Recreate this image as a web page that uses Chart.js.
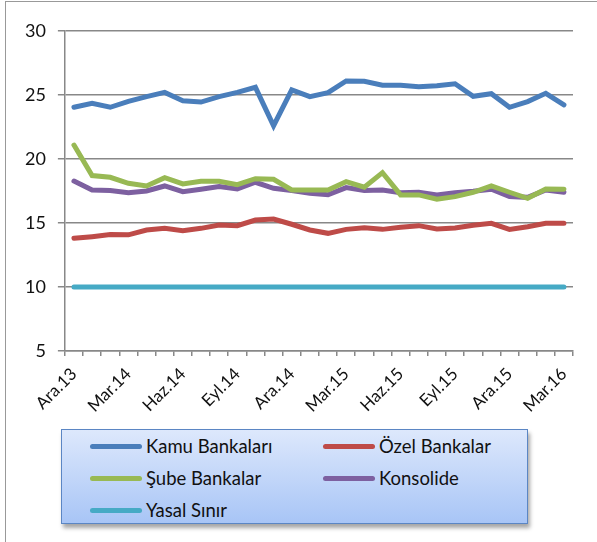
<!DOCTYPE html>
<html>
<head>
<meta charset="utf-8">
<script src="https://cdn.jsdelivr.net/npm/chart.js@4"></script>
<style>
  body { margin: 0; background: #fff; font-family: Lato, "Open Sans", sans-serif; }
  #frame { position: absolute; left: 5px; top: 1px; width: 600px; height: 560px; border: 1px solid #999; box-sizing: border-box; }
  #wrap { position: absolute; left: 0; top: 0; width: 597px; height: 424px; }
  #legend {
    position: absolute; left: 61px; top: 429px; width: 467px; height: 95px; box-sizing: border-box;
    border: 1.5px solid #5b86c4;
    background: linear-gradient(to bottom, #dde8fc, #a8c5f6);
    box-shadow: 2px 4px 4px rgba(0,0,0,0.35);
  }
  .item { position: absolute; display: flex; align-items: center; font-size: 18.5px; color: #111; }
  .swatch { width: 52px; height: 5px; border-radius: 3px; margin-right: 4px; }
</style>
</head>
<body>
<div id="frame"></div>
<div id="wrap"><canvas id="c"></canvas></div>
<div id="legend"></div>
<script>
const labels = ["Ara.13","Oca.14","Şub.14","Mar.14","Nis.14","May.14","Haz.14","Tem.14","Ağu.14","Eyl.14","Eki.14","Kas.14",
  "Ara.14","Oca.15","Şub.15","Mar.15","Nis.15","May.15","Haz.15","Tem.15","Ağu.15","Eyl.15","Eki.15","Kas.15",
  "Ara.15","Oca.16","Şub.16","Mar.16"];

const kamu = [24.04,24.35,24.04,24.5,24.87,25.2,24.55,24.45,24.87,25.2,25.6,22.6,
  25.4,24.87,25.18,26.1,26.07,25.76,25.76,25.65,25.73,25.88,24.9,25.1,24.04,24.48,25.13,24.22];
const ozel = [13.8,13.93,14.09,14.07,14.45,14.58,14.4,14.58,14.84,14.79,15.23,15.31,
  14.9,14.45,14.19,14.5,14.63,14.5,14.66,14.79,14.53,14.6,14.82,14.97,14.5,14.71,14.97,14.97];
const sube = [21.09,18.7,18.57,18.1,17.89,18.54,18.05,18.26,18.26,17.99,18.46,18.41,
  17.58,17.58,17.58,18.23,17.79,18.93,17.19,17.19,16.85,17.06,17.4,17.89,17.4,16.93,17.66,17.63];
const konsolide = [18.28,17.58,17.53,17.37,17.5,17.89,17.45,17.63,17.84,17.66,18.18,17.71,
  17.53,17.32,17.2,17.76,17.53,17.58,17.37,17.4,17.19,17.37,17.47,17.63,17.06,17.0,17.58,17.4];
const yasal = labels.map(() => 10);

const yTicks = [5, 10, 15, 20, 25, 30];

const series = [
  { label: "Kamu Bankaları", data: kamu, color: "#4a7ebb" },
  { label: "Özel Bankalar", data: ozel, color: "#be4b48" },
  { label: "Şube Bankalar", data: sube, color: "#98b954" },
  { label: "Konsolide", data: konsolide, color: "#7d60a0" },
  { label: "Yasal Sınır", data: yasal, color: "#46aac5" },
];

const datasets = series.map(s => ({
  label: s.label,
  data: s.data,
  borderColor: s.color,
  backgroundColor: s.color,
  borderWidth: 5,
  pointRadius: 0,
  tension: 0,
  borderCapStyle: "round",
}));

new Chart(document.getElementById("c"), {
  type: "line",
  data: { labels: labels, datasets: datasets },
  options: {
    responsive: true,
    maintainAspectRatio: false,
    animation: false,
    layout: { padding: { top: 31, right: 24, left: 13, bottom: 0 } },
    plugins: { legend: { display: false }, tooltip: { enabled: false } },
    scales: {
      x: {
        offset: true,
        grid: { offset: true, drawOnChartArea: false, drawTicks: true, tickLength: 5, color: "#888", lineWidth: 1.5 },
        border: { color: "#888", width: 1.5 },
        ticks: {
          autoSkip: false, maxRotation: 45, minRotation: 45, color: "#111", padding: 8,
          font: { family: "Lato", size: 17 },
          callback: (v, i) => (i % 3 === 0 ? labels[i] : ""),
        },
      },
      y: {
        min: 5, max: 30,
        afterBuildTicks: axis => { axis.ticks = yTicks.map(v => ({ value: v })); },
        grid: { color: "#888", lineWidth: 1.5, tickLength: 7 },
        border: { color: "#888", width: 1.5 },
        ticks: { color: "#111", padding: 12, font: { family: "Lato", size: 18 } },
      },
    },
  },
});

// legend from the series
const legend = document.getElementById("legend");
const pos = [[28, 5], [261, 5], [28, 37], [261, 37], [28, 69]];
series.forEach((s, i) => {
  const el = document.createElement("div");
  el.className = "item";
  el.style.left = pos[i][0] + "px";
  el.style.top = pos[i][1] + "px";
  el.innerHTML = '<span class="swatch" style="background:' + s.color + '"></span>' + s.label;
  legend.appendChild(el);
});
</script>
</body>
</html>
